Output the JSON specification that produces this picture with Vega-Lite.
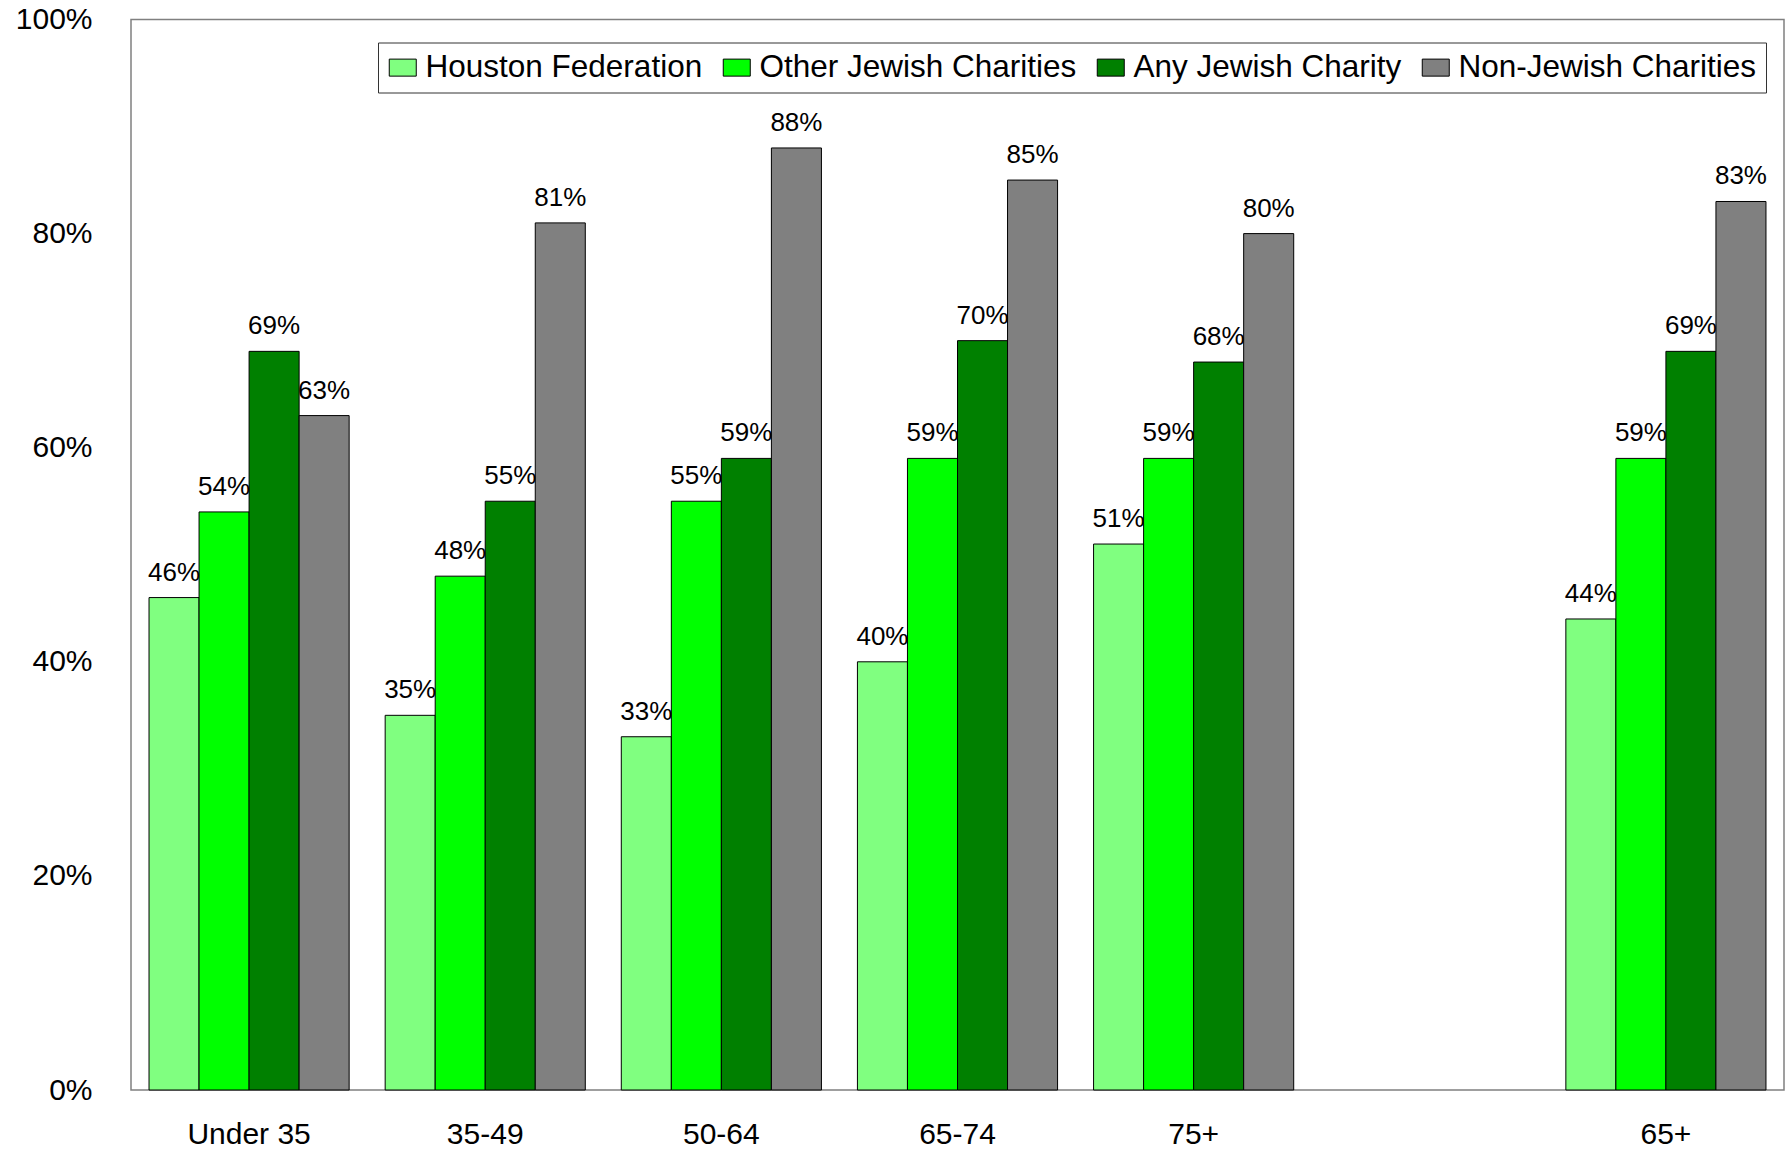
{
  "$schema": "https://vega.github.io/schema/vega-lite/v6.json",
  "autosize": {"type": "none"},
  "padding": {"left": 131, "top": 19.5, "right": 3, "bottom": 59},
  "width": 1653,
  "height": 1070.5,
  "background": "white",
  "config": {
    "font": "Liberation Sans",
    "view": {"stroke": "#808080", "strokeWidth": 1.5}
  },
  "data": {
    "values": [
      {"age": "Under 35", "type": "Houston Federation", "pct": 46},
      {"age": "Under 35", "type": "Other Jewish Charities", "pct": 54},
      {"age": "Under 35", "type": "Any Jewish Charity", "pct": 69},
      {"age": "Under 35", "type": "Non-Jewish Charities", "pct": 63},
      {"age": "35-49", "type": "Houston Federation", "pct": 35},
      {"age": "35-49", "type": "Other Jewish Charities", "pct": 48},
      {"age": "35-49", "type": "Any Jewish Charity", "pct": 55},
      {"age": "35-49", "type": "Non-Jewish Charities", "pct": 81},
      {"age": "50-64", "type": "Houston Federation", "pct": 33},
      {"age": "50-64", "type": "Other Jewish Charities", "pct": 55},
      {"age": "50-64", "type": "Any Jewish Charity", "pct": 59},
      {"age": "50-64", "type": "Non-Jewish Charities", "pct": 88},
      {"age": "65-74", "type": "Houston Federation", "pct": 40},
      {"age": "65-74", "type": "Other Jewish Charities", "pct": 59},
      {"age": "65-74", "type": "Any Jewish Charity", "pct": 70},
      {"age": "65-74", "type": "Non-Jewish Charities", "pct": 85},
      {"age": "75+", "type": "Houston Federation", "pct": 51},
      {"age": "75+", "type": "Other Jewish Charities", "pct": 59},
      {"age": "75+", "type": "Any Jewish Charity", "pct": 68},
      {"age": "75+", "type": "Non-Jewish Charities", "pct": 80},
      {"age": "65+", "type": "Houston Federation", "pct": 44},
      {"age": "65+", "type": "Other Jewish Charities", "pct": 59},
      {"age": "65+", "type": "Any Jewish Charity", "pct": 69},
      {"age": "65+", "type": "Non-Jewish Charities", "pct": 83}
    ]
  },
  "encoding": {
    "x": {
      "field": "age",
      "type": "nominal",
      "scale": {
        "domain": ["Under 35", "35-49", "50-64", "65-74", "75+", " ", "65+"],
        "paddingInner": 0.1525,
        "paddingOuter": 0.0763
      },
      "axis": {
        "title": null,
        "labelAngle": 0,
        "ticks": false,
        "domain": false,
        "labelFontSize": 30,
        "labelColor": "black",
        "labelPadding": 29,
        "labelBaseline": "top"
      }
    },
    "xOffset": {
      "field": "type",
      "type": "nominal",
      "scale": {
        "domain": ["Houston Federation", "Other Jewish Charities", "Any Jewish Charity", "Non-Jewish Charities"],
        "paddingInner": 0,
        "paddingOuter": 0
      }
    },
    "y": {
      "field": "pct",
      "type": "quantitative",
      "scale": {"domain": [0, 100], "nice": false},
      "axis": {
        "title": null,
        "grid": false,
        "ticks": false,
        "domain": false,
        "values": [0, 20, 40, 60, 80, 100],
        "labelExpr": "datum.value + '%'",
        "labelFontSize": 30,
        "labelColor": "black",
        "labelPadding": 39
      }
    }
  },
  "layer": [
    {
      "mark": {"type": "bar", "stroke": "black", "strokeWidth": 1},
      "encoding": {
        "color": {
          "field": "type",
          "type": "nominal",
          "scale": {
            "domain": ["Houston Federation", "Other Jewish Charities", "Any Jewish Charity", "Non-Jewish Charities"],
            "range": ["#80FF80", "#00FF00", "#008000", "#808080"]
          },
          "legend": {
            "title": null,
            "orient": "none",
            "legendX": 247,
            "legendY": 23,
            "direction": "horizontal",
            "symbolType": "M-1,-0.63H1V0.63H-1Z",
            "symbolSize": 729,
            "symbolStrokeColor": "black",
            "symbolStrokeWidth": 1,
            "symbolOpacity": 1,
            "labelFontSize": 31.5,
            "labelColor": "black",
            "labelOffset": 7,
            "columnPadding": 18,
            "padding": 9,
            "strokeColor": "#333333",
            "fillColor": "white",
            "labelLimit": 400
          }
        }
      }
    },
    {
      "mark": {
        "type": "text",
        "fontSize": 26,
        "baseline": "alphabetic",
        "dy": -17,
        "color": "black",
        "text": {"expr": "datum.pct + '%'"}
      },
      "encoding": {}
    }
  ]
}
